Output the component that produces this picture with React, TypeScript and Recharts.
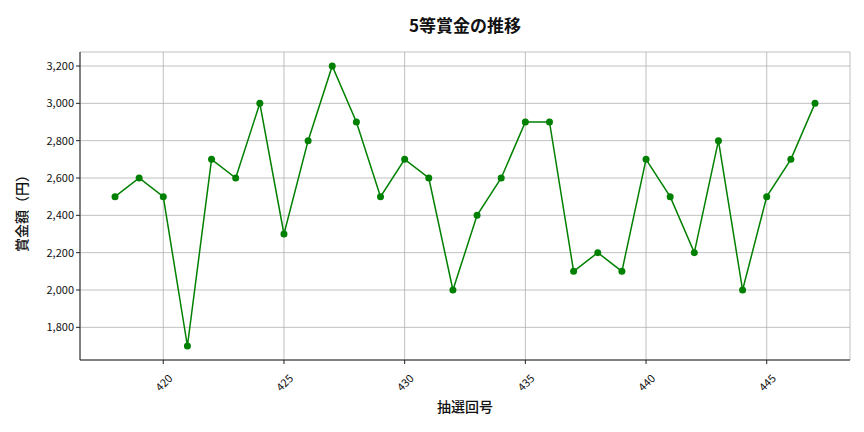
import React from "react";
import {
  LineChart,
  Line,
  XAxis,
  YAxis,
  CartesianGrid,
} from "recharts";

// 抽選回号
const draws = [
  418, 419, 420, 421, 422, 423, 424, 425, 426, 427, 428, 429, 430, 431, 432,
  433, 434, 435, 436, 437, 438, 439, 440, 441, 442, 443, 444, 445, 446, 447,
];
// 5等賞金（円）
const prizes = [
  2500, 2600, 2500, 1700, 2700, 2600, 3000, 2300, 2800, 3200, 2900, 2500, 2700,
  2600, 2000, 2400, 2600, 2900, 2900, 2100, 2200, 2100, 2700, 2500, 2200, 2800,
  2000, 2500, 2700, 3000,
];
const xTicks = [420, 425, 430, 435, 440, 445];
const yTicks = [1800, 2000, 2200, 2400, 2600, 2800, 3000, 3200];

const FONT = "'Noto Sans CJK JP', 'Noto Sans', sans-serif";

const data = draws.map((d, i) => ({ draw: d, prize: prizes[i] }));

const RotatedTick = ({ x, y, payload }: any) => {
  const cx = x;
  const cy = y + 16;
  return (
    <text
      x={cx}
      y={cy}
      textAnchor="middle"
      dominantBaseline="central"
      fontSize={11}
      fontFamily={FONT}
      fill="#111"
      transform={`rotate(-45, ${cx}, ${cy})`}
    >
      {payload.value}
    </text>
  );
};

export default function App() {
  return (
    <div
      style={{
        position: "absolute",
        left: 0,
        top: 0,
        width: 864,
        height: 432,
        background: "#fff",
        fontFamily: FONT,
      }}
    >
      <div
        style={{
          position: "absolute",
          top: 12,
          left: 80,
          width: 770,
          textAlign: "center",
          fontSize: 17,
          fontWeight: "bold",
          color: "#111",
        }}
      >
        5等賞金の推移
      </div>
      <div
        style={{
          position: "absolute",
          top: 396,
          left: 80,
          width: 770,
          textAlign: "center",
          fontSize: 14,
          fontWeight: 500,
          color: "#111",
        }}
      >
        抽選回号
      </div>
      <div
        style={{
          position: "absolute",
          left: 21,
          top: 210,
          transform: "translate(-50%, -50%) rotate(-90deg)",
          fontSize: 14,
          fontWeight: 500,
          color: "#111",
          whiteSpace: "nowrap",
        }}
      >
        賞金額（円）
      </div>
      <LineChart
        width={864}
        height={432}
        data={data}
        margin={{ top: 52, right: 14, bottom: 0, left: 0 }}
      >
        <CartesianGrid stroke="#b0b0b0" strokeWidth={0.8} />
        <XAxis
          dataKey="draw"
          type="number"
          domain={[416.55, 448.45]}
          ticks={xTicks}
          height={72}
          tick={<RotatedTick />}
          tickSize={4}
          stroke="#222"
          allowDataOverflow
        />
        <XAxis
          xAxisId="top"
          orientation="top"
          dataKey="draw"
          type="number"
          domain={[416.55, 448.45]}
          height={0}
          tick={false}
          tickLine={false}
          stroke="#222"
        />
        <YAxis
          type="number"
          domain={[1625, 3275]}
          ticks={yTicks}
          width={80}
          tickSize={4}
          stroke="#222"
          allowDataOverflow
          tick={{ fontSize: 11, fontFamily: FONT, fill: "#111" }}
          tickFormatter={(v: number) => v.toLocaleString("en-US")}
        />
        <YAxis
          yAxisId="right"
          orientation="right"
          type="number"
          domain={[1625, 3275]}
          width={0}
          tick={false}
          tickLine={false}
          stroke="#222"
        />
        <Line
          type="linear"
          dataKey="prize"
          stroke="#008000"
          strokeWidth={1.5}
          dot={{ r: 3.5, fill: "#008000", stroke: "#008000", strokeWidth: 0 }}
          activeDot={false}
          isAnimationActive={false}
        />
      </LineChart>
    </div>
  );
}
